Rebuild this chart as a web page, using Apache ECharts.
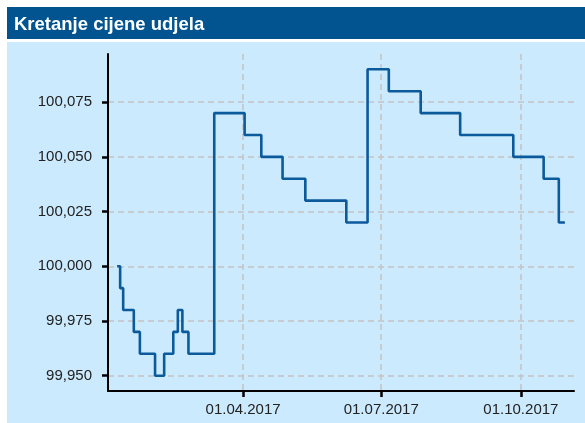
<!DOCTYPE html>
<html>
<head>
<meta charset="utf-8">
<script src="https://cdn.jsdelivr.net/npm/echarts@6/dist/echarts.min.js"></script>
<style>
  html, body { margin: 0; padding: 0; background: #fff; }
  #chart { width: 585px; height: 423px; }
</style>
</head>
<body>
<div id="chart"></div>
<script>
// dates where the unit price changed, and the price from that day
const dates = [
  '2017-01-08', '2017-01-10', '2017-01-12', '2017-01-19', '2017-01-23',
  '2017-02-02', '2017-02-08', '2017-02-14', '2017-02-17', '2017-02-20',
  '2017-02-24', '2017-03-13', '2017-04-02', '2017-04-13', '2017-04-27',
  '2017-05-12', '2017-06-08', '2017-06-22', '2017-07-06', '2017-07-27',
  '2017-08-22', '2017-09-26', '2017-10-16', '2017-10-26', '2017-10-30'
]
const prices = [
  100.000, 99.990, 99.980, 99.970, 99.960,
  99.950, 99.960, 99.970, 99.980, 99.970,
  99.960, 100.070, 100.060, 100.050, 100.040,
  100.030, 100.020, 100.090, 100.080, 100.070,
  100.060, 100.050, 100.040, 100.020, 100.020
]
const xTicks = ['2017-04-01', '2017-07-01', '2017-10-01']
const yTicks = [99.950, 99.975, 100.000, 100.025, 100.050, 100.075]

const toTime = s => { const p = s.split('-').map(Number); return Date.UTC(p[0], p[1] - 1, p[2]) }
const xTickTimes = xTicks.map(toTime)
const pad = n => (n < 10 ? '0' : '') + n
const fmtDate = v => { const d = new Date(v); return pad(d.getUTCDate()) + '.' + pad(d.getUTCMonth() + 1) + '.' + d.getUTCFullYear() }
const fmtNum = v => v.toFixed(3).replace('.', ',')

const gridDash = { type: [6, 4], color: '#c4c4c4', width: 1.5 }

const c = echarts.init(document.getElementById('chart'))
c.setOption({
  backgroundColor: '#fff',
  animation: false,
  graphic: [
    { type: 'rect', z: -10, shape: { x: 7, y: 7, width: 578, height: 32 }, style: { fill: '#01548f' } },
    { type: 'rect', z: -10, shape: { x: 7, y: 42, width: 578, height: 381 }, style: { fill: '#cceafd' } }
  ],
  title: {
    text: 'Kretanje cijene udjela',
    left: 9, top: 10,
    textStyle: { color: '#fff', fontFamily: 'Liberation Sans', fontWeight: 'bold', fontSize: 18.5 }
  },
  grid: { left: 108, right: 11, top: 54, bottom: 32 },
  xAxis: {
    type: 'value',
    min: toTime('2017-01-02'), max: toTime('2017-11-05'),
    axisLine: { lineStyle: { color: '#000', width: 2 } },
    axisTick: { show: true, customValues: xTickTimes, length: 6, lineStyle: { color: '#000', width: 2.5 } },
    axisLabel: {
      customValues: xTickTimes, formatter: fmtDate, margin: 11,
      color: '#222', fontFamily: 'Liberation Sans', fontSize: 15
    },
    splitLine: { show: true, lineStyle: gridDash }
  },
  yAxis: {
    type: 'value',
    min: 99.943, max: 100.097,
    axisLine: { show: true, lineStyle: { color: '#000', width: 2 } },
    axisTick: { show: true, customValues: yTicks, length: 6, lineStyle: { color: '#000', width: 2.5 } },
    axisLabel: {
      customValues: yTicks, formatter: fmtNum, margin: 16,
      color: '#222', fontFamily: 'Liberation Sans', fontSize: 15
    },
    splitLine: { show: true, lineStyle: gridDash }
  },
  series: [{
    type: 'line',
    step: 'end',
    data: dates.map((d, i) => [toTime(d), prices[i]]),
    symbol: 'none',
    lineStyle: { color: '#0b5a9c', width: 2.6 }
  }]
})
window.addEventListener('resize', () => c.resize())
</script>
</body>
</html>
